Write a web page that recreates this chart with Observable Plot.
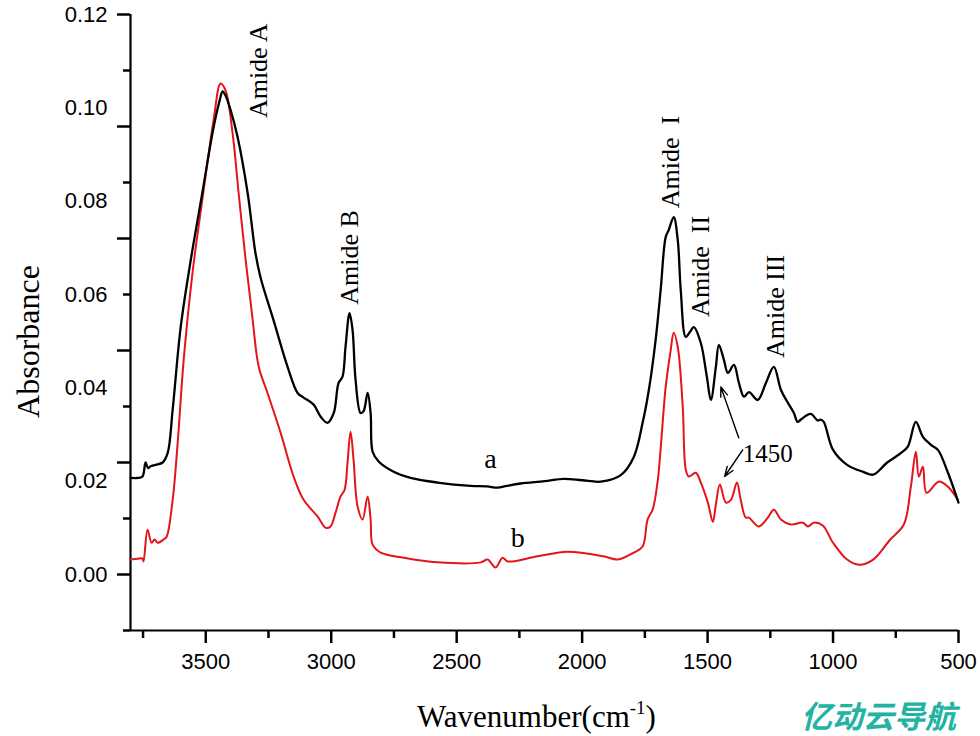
<!DOCTYPE html>
<html><head><meta charset="utf-8">
<script src="https://cdn.jsdelivr.net/npm/d3@7"></script>
<script src="https://cdn.jsdelivr.net/npm/@observablehq/plot@0.6"></script>
<style>html,body{margin:0;padding:0;background:#fff}</style>
</head><body><div id="chart"></div>
<script>
// Curve a (black)
const waveA = [3800,3770,3752,3740,3730,3720,3700,3672,3652,3632,3600,3561,3514,3469,3445,3433,3420,3401,3373,3333,3302,3282,3230,3174,3134,3110,3070,3042,3015,2990,2971,2955,2943,2927,2915,2903,2883,2871,2855,2843,2835,2811,2751,2684,2576,2444,2380,2337,2300,2245,2150,2073,2000,1926,1846,1794,1759,1734,1707,1687,1667,1655,1635,1619,1607,1587,1570,1555,1527,1503,1487,1467,1455,1435,1419,1395,1375,1355,1335,1300,1268,1236,1208,1180,1156,1141,1128,1089,1061,1049,1037,1000,944,880,840,784,730,702,670,642,610,582,542,500];
const absA  = [0.0207,0.0207,0.0210,0.0240,0.0228,0.0232,0.0235,0.0240,0.0260,0.0353,0.0530,0.0670,0.0817,0.0958,0.1015,0.1035,0.1025,0.0995,0.0937,0.0817,0.0689,0.0637,0.0545,0.0445,0.0389,0.0379,0.0364,0.0338,0.0325,0.0346,0.0410,0.0424,0.0488,0.0560,0.0524,0.0417,0.0346,0.0350,0.0389,0.0346,0.0263,0.0242,0.0220,0.0207,0.0197,0.0190,0.0189,0.0186,0.0190,0.0195,0.0200,0.0205,0.0202,0.0199,0.0213,0.0252,0.0325,0.0396,0.0503,0.0610,0.0723,0.0738,0.0766,0.0717,0.0610,0.0509,0.0520,0.0530,0.0496,0.0424,0.0374,0.0445,0.0492,0.0460,0.0432,0.0449,0.0410,0.0381,0.0391,0.0374,0.0410,0.0445,0.0396,0.0368,0.0346,0.0327,0.0332,0.0344,0.0330,0.0332,0.0327,0.0267,0.0235,0.0220,0.0214,0.0240,0.0260,0.0274,0.0327,0.0295,0.0278,0.0267,0.0218,0.0154];
// Curve b (red)
const waveB = [3800,3770,3752,3748,3732,3716,3704,3692,3668,3656,3632,3612,3588,3553,3514,3469,3441,3421,3393,3369,3341,3313,3289,3254,3202,3150,3110,3054,3022,3003,2983,2963,2947,2935,2923,2911,2895,2875,2855,2843,2835,2803,2711,2576,2404,2377,2345,2317,2297,2177,2058,1914,1858,1794,1759,1739,1719,1699,1687,1667,1647,1635,1619,1599,1587,1575,1547,1527,1499,1479,1467,1451,1427,1407,1383,1368,1348,1336,1296,1260,1236,1208,1168,1120,1100,1077,1041,1000,944,896,840,772,718,690,670,658,642,627,579,542,503];
const absB  = [0.0032,0.0034,0.0034,0.0028,0.0096,0.0068,0.0075,0.0068,0.0075,0.0081,0.0160,0.0282,0.0460,0.0646,0.0802,0.0973,0.1052,0.1037,0.0945,0.0817,0.0674,0.0545,0.0445,0.0389,0.0304,0.0210,0.0160,0.0124,0.0100,0.0103,0.0132,0.0167,0.0181,0.0240,0.0306,0.0246,0.0146,0.0118,0.0167,0.0118,0.0064,0.0047,0.0036,0.0026,0.0026,0.0032,0.0015,0.0036,0.0028,0.0039,0.0049,0.0039,0.0032,0.0047,0.0060,0.0118,0.0139,0.0200,0.0270,0.0402,0.0481,0.0518,0.0488,0.0359,0.0225,0.0210,0.0218,0.0197,0.0154,0.0113,0.0150,0.0193,0.0154,0.0160,0.0197,0.0160,0.0122,0.0122,0.0103,0.0122,0.0139,0.0118,0.0107,0.0111,0.0103,0.0111,0.0105,0.0068,0.0032,0.0021,0.0032,0.0075,0.0107,0.0188,0.0263,0.0210,0.0231,0.0175,0.0199,0.0188,0.0160];

// Axes ticks and labels
const xMajorTicks = [3500,3000,2500,2000,1500,1000,500];
const xMinorTicks = [3750,3250,2750,2250,1750,1250,750];
const yMajorTicks = [0.12,0.096,0.072,0.048,0.024,0.0];
const yMinorTicks = [0.108,0.084,0.06,0.036,0.012,-0.012];
const yTickLabels = [0.00,0.02,0.04,0.06,0.08,0.10,0.12];

// Peak annotations (rotated)
const peakNames = ["Amide A","Amide B","Amide\u00a0 I","Amide\u00a0 II","Amide III"];
const peakWave  = [3290,2927,1647,1527,1228];
const peakAbs   = [0.0978,0.0578,0.0785,0.0552,0.0464];
// Curve letters
const curveNames = ["a","b"];
const curveWave  = [2365,2257];
const curveAbs   = [0.0229,0.0060];
// 1450 label and arrows
const note1450 = {text:"1450", w:1360, v:0.0242};
const arrowTailWave = [1376,1360];
const arrowTailAbs  = [0.0293,0.0267];
const arrowTipWave  = [1447,1432];
const arrowTipAbs   = [0.0402,0.0210];

const seriesA = waveA.map((w,i)=>({w, v:absA[i]}));
const seriesB = waveB.map((w,i)=>({w, v:absB[i]}));
const peaks = peakNames.map((t,i)=>({t, w:peakWave[i], v:peakAbs[i]}));
const letters = curveNames.map((t,i)=>({t, w:curveWave[i], v:curveAbs[i]}));
const arrows = arrowTailWave.map((w,i)=>({x1:w, y1:arrowTailAbs[i], x2:arrowTipWave[i], y2:arrowTipAbs[i]}));

const serif = "Liberation Serif, Times New Roman, serif";
const sans = "Liberation Sans, Arial, sans-serif";

const chart = Plot.plot({
  width: 980, height: 736,
  marginLeft: 130, marginRight: 22, marginTop: 14, marginBottom: 106,
  x: {domain: [3800, 500]},
  y: {domain: [-0.012, 0.12]},
  style: {fontFamily: sans, fontSize: "22px", background: "#fff", color: "#000"},
  marks: [
    Plot.axisX({ticks: xMajorTicks, tickSize: 13, tickPadding: 10, strokeWidth: 2.5, fontSize: 22, fontFamily: sans, tickFormat: d => String(d), label: null}),
    Plot.axisX({ticks: xMinorTicks, tickSize: 8, strokeWidth: 2.5, tickFormat: () => "", label: null}),
    Plot.axisY({ticks: yMajorTicks, tickSize: 13, strokeWidth: 2.5, tickFormat: () => "", label: null}),
    Plot.axisY({ticks: yMinorTicks, tickSize: 7, strokeWidth: 2.5, tickFormat: () => "", label: null}),
    Plot.axisY({ticks: yTickLabels, tickSize: 0, tickPadding: 23, fontSize: 22, fontFamily: sans, tickFormat: d3.format(".2f"), label: null}),
    Plot.ruleX([3800], {stroke: "#000", strokeWidth: 2.2}),
    Plot.ruleY([-0.012], {stroke: "#000", strokeWidth: 2.2}),
    Plot.line(seriesB, {x: "w", y: "v", stroke: "#e4141b", strokeWidth: 2, curve: "catmull-rom"}),
    Plot.line(seriesA, {x: "w", y: "v", stroke: "#000", strokeWidth: 2.3, curve: "catmull-rom"}),
    Plot.text(peaks, {x: "w", y: "v", text: "t", rotate: -90, textAnchor: "start", lineAnchor: "middle", fontSize: 26, fontFamily: serif, fill: "#000"}),
    Plot.text(letters, {x: "w", y: "v", text: "t", textAnchor: "middle", lineAnchor: "bottom", fontSize: 28, fontFamily: serif, fill: "#000"}),
    Plot.text([note1450], {x: "w", y: "v", text: "text", textAnchor: "start", lineAnchor: "bottom", fontSize: 25, fontFamily: serif, fill: "#000"}),
    Plot.arrow(arrows, {x1: "x1", y1: "y1", x2: "x2", y2: "y2", stroke: "#000", strokeWidth: 1.4, headLength: 11, headAngle: 40}),
    Plot.text(["Absorbance"], {frameAnchor: "left", rotate: -90, dx: -102, dy: 19, textAnchor: "middle", lineAnchor: "middle", fontSize: 32, fontFamily: serif, fill: "#000"}),
    Plot.text(["Wavenumber(cm-1)"], {frameAnchor: "bottom", dx: -8, dy: 96, textAnchor: "middle", lineAnchor: "bottom", fontSize: 31, fontFamily: serif, fill: "#000"}),
    Plot.text(["亿动云导航"], {frameAnchor: "bottom-right", dx: -80, dy: 88, textAnchor: "middle", lineAnchor: "middle", fontSize: 31, fontWeight: "bold", fontStyle: "italic", fontFamily: "Noto Sans CJK SC", fill: "#22b3a3"})
  ]
});

// Superscript in the x-axis title
d3.select(chart).selectAll("text").filter(function(){ return this.textContent === "Wavenumber(cm-1)"; }).each(function(){
  const t = d3.select(this);
  t.text("");
  t.append("tspan").text("Wavenumber(cm");
  t.append("tspan").attr("font-size", 19).attr("dy", -13).text("-1");
  t.append("tspan").attr("dy", 13).text(")");
});

document.getElementById("chart").appendChild(chart);
</script>
</body></html>
